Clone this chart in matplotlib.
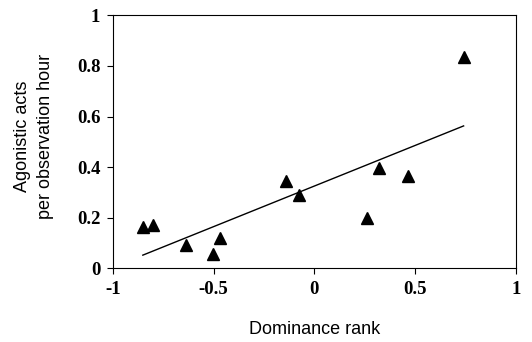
import numpy as np
import matplotlib.pyplot as plt

# dominance rank vs agonistic acts per observation hour
rank = [-0.851, -0.80, -0.638, -0.504, -0.466, -0.139, -0.078, 0.26, 0.321, 0.466, 0.74]
acts = [0.165, 0.17, 0.092, 0.055, 0.118, 0.345, 0.288, 0.2, 0.397, 0.366, 0.836]

# trend line endpoints
line_x = [-0.851, 0.74]
line_y = [0.052, 0.563]

xticks = [-1, -0.5, 0, 0.5, 1]
yticks = [0, 0.2, 0.4, 0.6, 0.8, 1]

fig = plt.figure(figsize=(5.32, 3.42), dpi=100)
ax = fig.add_axes([0.212, 0.2155, 0.758, 0.7395])

ax.plot(line_x, line_y, color='black', lw=1)
ax.plot(rank, acts, linestyle='none', marker='^', ms=8.5, color='black')

ax.set_xlim(-1, 1)
ax.set_ylim(0, 1)
ax.set_xticks(xticks)
ax.set_yticks(yticks)
ax.set_xticklabels(['-1', '-0.5', '0', '0.5', '1'])
ax.set_yticklabels(['0', '0.2', '0.4', '0.6', '0.8', '1'])
for lab in ax.get_xticklabels() + ax.get_yticklabels():
    lab.set_fontfamily('Liberation Serif')
    lab.set_fontweight('bold')
    lab.set_fontsize(13.5)
ax.tick_params(direction='out', length=4, width=0.8, pad=5)

for sp in ax.spines.values():
    sp.set_linewidth(0.8)

ax.set_xlabel('Dominance rank', family='Liberation Sans', fontsize=13, labelpad=17)
ax.set_ylabel('Agonistic acts\nper observation hour', family='Liberation Sans',
              fontsize=13, linespacing=1.45)
ax.yaxis.set_label_coords(-0.147, 0.52)

fig.savefig('out.png', dpi=100)
